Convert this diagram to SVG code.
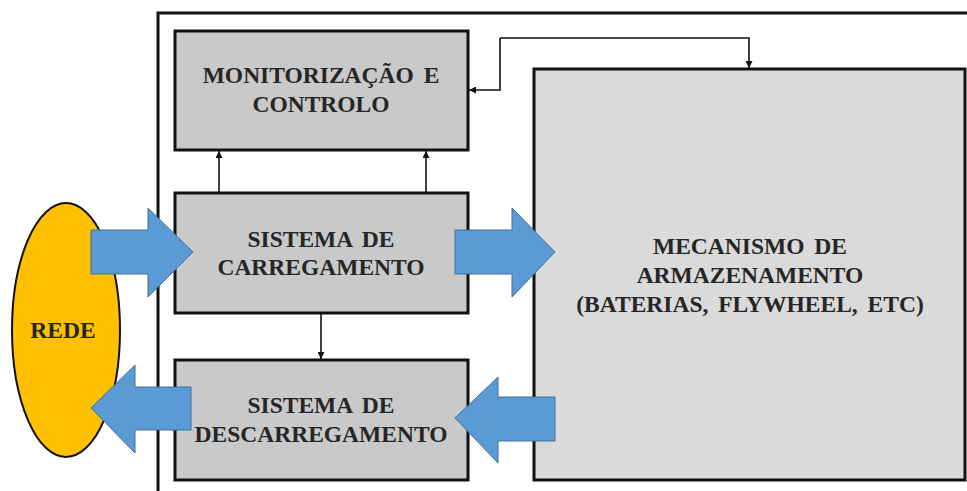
<svg xmlns="http://www.w3.org/2000/svg" width="967" height="491" viewBox="0 0 967 491">
<style>
.box{fill:#c9c9c9;stroke:#111;stroke-width:3}
.store{fill:#dadada;stroke:#111;stroke-width:3}
.frame{fill:none;stroke:#111;stroke-width:3}
.lbl{font-family:"Liberation Serif","Times New Roman",serif;font-weight:bold;font-size:23.5px;fill:#262626;text-anchor:middle;word-spacing:4px}
.con{fill:none;stroke:#111;stroke-width:1.6}
.big{fill:#5b9bd5;stroke:#41719c;stroke-width:1}
</style>
<defs>
<marker id="ah" viewBox="0 0 10 10" refX="10" refY="5" markerWidth="7" markerHeight="7" orient="auto" markerUnits="userSpaceOnUse">
<path d="M0,0 L10,5 L0,10 z" fill="#111"/>
</marker>
</defs>
<rect width="967" height="491" fill="#ffffff"/>
<g id="frame"><path class="frame" d="M158,491 L158,13 L967,13"/></g>
<g id="monitorizacao">
<rect class="box" x="175" y="31" width="293" height="119"/>
<text class="lbl" x="321" y="83">MONITORIZAÇÃO E</text>
<text class="lbl" x="321" y="112">CONTROLO</text>
</g>
<g id="carregamento">
<rect class="box" x="175" y="193" width="293" height="120"/>
<text class="lbl" x="321" y="247">SISTEMA DE</text>
<text class="lbl" x="321" y="275">CARREGAMENTO</text>
</g>
<g id="descarregamento">
<rect class="box" x="175" y="360" width="293" height="120"/>
<text class="lbl" x="321" y="413">SISTEMA DE</text>
<text class="lbl" x="321" y="442">DESCARREGAMENTO</text>
</g>
<g id="armazenamento">
<rect class="store" x="534" y="69" width="431" height="411"/>
<text class="lbl" x="750" y="254">MECANISMO DE</text>
<text class="lbl" x="750" y="283">ARMAZENAMENTO</text>
<text class="lbl" x="750" y="312">(BATERIAS, FLYWHEEL, ETC)</text>
</g>
<g id="rede">
<ellipse cx="66" cy="330" rx="54" ry="127" fill="#ffc000" stroke="#111" stroke-width="2"/>
<text class="lbl" x="63" y="338">REDE</text>
</g>
<g id="connectors">
<path class="con" d="M219,192 L219,151" marker-end="url(#ah)"/>
<path class="con" d="M426,192 L426,151" marker-end="url(#ah)"/>
<path class="con" d="M321,314 L321,359" marker-end="url(#ah)"/>
<path class="con" d="M500,38 L500,90 L469,90" marker-end="url(#ah)"/>
<path class="con" d="M500,38 L749,38 L749,68" marker-end="url(#ah)"/>
<path class="big" d="M91,230 L148,230 L148,208 L193,252 L148,297 L148,274 L91,274 z"/>
<path class="big" d="M455,230 L512,230 L512,208 L555,252 L512,297 L512,274 L455,274 z"/>
<path class="big" d="M191,387 L135,387 L135,365 L91,408 L135,453 L135,430 L191,430 z"/>
<path class="big" d="M555,397 L498,397 L498,377 L455,418 L498,463 L498,441 L555,441 z"/>
</g>
</svg>
